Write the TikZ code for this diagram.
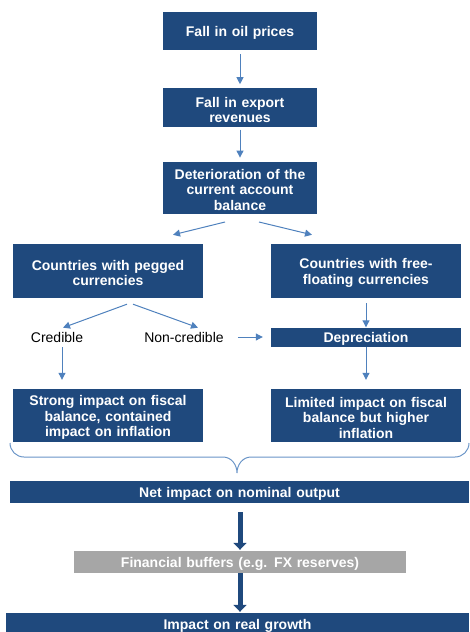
\documentclass[tikz,border=0pt]{standalone}
\usepackage{fontspec}
\setmainfont{Liberation Sans}
\usetikzlibrary{arrows.meta,positioning,calc}
\definecolor{boxblue}{HTML}{1F497D}
\definecolor{linkblue}{HTML}{4F81BD}
\definecolor{buffergray}{HTML}{A6A6A6}

\begin{document}
\begin{tikzpicture}
[x=1pt,y=1pt,inner sep=0pt,
box/.style={rectangle,fill=boxblue,text=white,align=center,
  font=\bfseries\fontsize{14}{15.5}\selectfont,
  execute at end node={\endgraf\kern-4pt}},
narrow/.style={text width=154pt},
wide/.style={text width=190pt},
choice/.style={text=black,font=\fontsize{14}{16}\selectfont},
link/.style={-{Triangle[length=7pt,width=7pt]},draw=linkblue,line width=1pt},
bigarrow/.style={-{Triangle[length=7pt,width=13pt]},draw=boxblue,line width=5pt},
brace/.style={draw=linkblue!85,line width=1pt}]
\useasboundingbox (0,0) rectangle (470,-632);
\node[box,narrow,minimum height=38pt] (oil) at (240,-31) {Fall in oil prices};
\node[box,narrow,minimum height=39pt] (export) [below=38pt of oil] {Fall in export\\revenues};
\node[box,narrow,minimum height=52pt] (deterioration) [below=34pt of export]
  {Deterioration of the\\current account\\balance};
\node[box,wide,minimum height=54pt] (pegged) at (108,-271) {Countries with pegged\\currencies};
\node[box,wide,minimum height=54pt] (floating) at (366,-271) {Countries with free-\\floating currencies};
\node[choice] (credible) at (57,-337) {Credible};
\node[choice] (noncredible) at (184,-337) {Non-credible};
\node[box,wide,minimum height=19pt] (depreciation) at (366,-337) {Depreciation};
\node[box,wide,minimum height=53pt] (strong) at (108,-415.5)
  {Strong impact on fiscal\\balance, contained\\impact on inflation};
\node[box,wide,minimum height=53pt] (limited) at (366,-415.5)
  {Limited impact on fiscal\\balance but higher\\inflation};
\node[box,text width=459pt,minimum height=22pt] (net) at (239.5,-492) {Net impact on nominal output};
\node[box,fill=buffergray,text width=332pt,minimum height=22pt] (buffers) at (240,-562)
  {Financial buffers (e.g. FX reserves)};
\node[box,text width=463pt,minimum height=22pt] (growth) at (237.5,-624) {Impact on real growth};
% top chain
\draw[link,shorten <=4pt,shorten >=4pt] (oil.south) -- (export.north);
\draw[link,shorten <=2pt,shorten >=4pt] (export.south) -- (deterioration.north);
\draw[link] ([xshift=-15pt,yshift=-8pt]deterioration.south) -- ([xshift=65pt,yshift=9pt]pegged.north);
\draw[link] ([xshift=19pt,yshift=-8pt]deterioration.south) -- ([xshift=-54pt,yshift=9pt]floating.north);
% pegged branch
\draw[link] ([xshift=19pt,yshift=-6pt]pegged.south) -- ([xshift=6pt,yshift=4pt]credible.north);
\draw[link] ([xshift=25pt,yshift=-6pt]pegged.south) -- ([xshift=14pt,yshift=4pt]noncredible.north);
\draw[link,shorten <=14pt,shorten >=8pt] (noncredible.east) -- (depreciation.west);
\draw[link] ([xshift=5pt,yshift=-5pt]credible.south) -- ($(strong.north -| credible.south)+(5,9)$);
% floating branch
\draw[link,shorten <=5pt] (floating.south) -- (depreciation.north);
\draw[link,shorten >=9pt] (depreciation.south) -- (limited.north);
% brace
\draw[brace] (10,-443) to[out=-90,in=180] (24,-457) -- (223,-457) to[out=0,in=90] (237,-473)
  to[out=90,in=180] (251,-457) -- (455,-457) to[out=0,in=-90] (469,-443);
% bottom chain
\draw[bigarrow,shorten <=9pt,shorten >=1pt] (net.south -| buffers.north) -- (buffers.north);
\draw[bigarrow,shorten >=1pt] (buffers.south) -- (buffers.south |- growth.north);
\end{tikzpicture}
\end{document}
